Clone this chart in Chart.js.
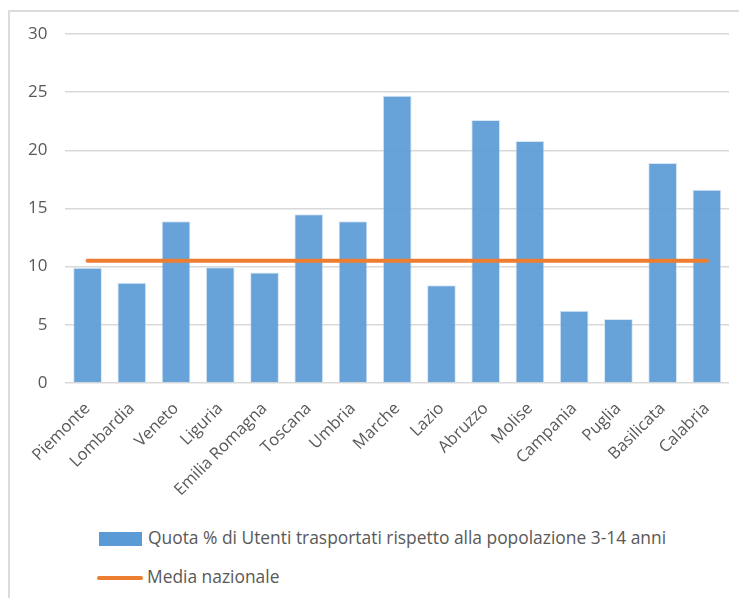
<!DOCTYPE html>
<html>
<head>
  <meta charset="utf-8">
  <script src="https://cdn.jsdelivr.net/npm/chart.js@4.4.1/dist/chart.umd.min.js"></script>
  <style>
    body { margin: 0; background: #fff; font-family: "Open Sans", sans-serif; }
    #frame { position: absolute; left: 8px; top: 10px; width: 760px; height: 620px;
             border-left: 2px solid #dcdcdc; border-top: 2px solid #dcdcdc; }
    #holder { position: absolute; left: 0; top: 0; width: 739px; height: 510px; }
    .leg { position: absolute; left: 99px; height: 22px; font-size: 17.4px; color: #595959;
           line-height: 22px; white-space: nowrap; }
    .leg .sw { display: inline-block; vertical-align: middle; margin-right: 6px; }
    .leg .bar { width: 43px; height: 14px; background: #5b9bd5; }
    .leg .ln { width: 46px; height: 4px; border-radius: 2px; background: #ed7d31; margin-left: -2px; margin-right: 4px; }
  </style>
</head>
<body>
<div id="frame"></div>
<div id="holder"><canvas id="chart-area"></canvas></div>
<div class="leg" style="top:526px"><span class="sw bar"></span>Quota % di Utenti trasportati rispetto alla popolazione 3-14 anni</div>
<div class="leg" style="top:565px"><span class="sw ln"></span>Media nazionale</div>

<script>
var regioni = ["Piemonte", "Lombardia", "Veneto", "Liguria", "Emilia Romagna", "Toscana", "Umbria",
  "Marche", "Lazio", "Abruzzo", "Molise", "Campania", "Puglia", "Basilicata", "Calabria"];
var quotaUtenti = [9.9, 8.6, 13.9, 9.95, 9.5, 14.5, 13.9, 24.7, 8.4, 22.6, 20.8, 6.2, 5.5, 18.9, 16.6];
var mediaNazionale = [10.5, 10.5, 10.5, 10.5, 10.5, 10.5, 10.5, 10.5, 10.5, 10.5, 10.5, 10.5, 10.5, 10.5, 10.5];
var yTicks = [0, 5, 10, 15, 20, 25, 30];

var config = {
  data: {
    labels: regioni,
    datasets: [{
      type: 'line',
      label: 'Media nazionale',
      data: mediaNazionale,
      borderColor: '#ed7d31',
      borderWidth: 4,
      borderCapStyle: 'round',
      pointRadius: 0,
      order: 1
    }, {
      type: 'bar',
      label: 'Quota % di Utenti trasportati rispetto alla popolazione 3-14 anni',
      data: quotaUtenti,
      backgroundColor: 'rgba(91,155,213,0.93)',
      borderColor: 'rgba(190,215,240,0.6)',
      borderWidth: 1,
      barPercentage: 0.65,
      categoryPercentage: 1,
      order: 2
    }]
  },
  options: {
    responsive: true,
    maintainAspectRatio: false,
    animation: false,
    layout: { padding: { left: 10, right: 10, top: 34, bottom: 2 } },
    plugins: { legend: { display: false }, tooltip: { enabled: false } },
    scales: {
      x: {
        grid: { display: false },
        border: { display: false },
        ticks: { color: '#595959', font: { family: "Open Sans", size: 16.5 }, minRotation: 45, maxRotation: 45, padding: 8 }
      },
      y: {
        min: 0, max: 30,
        afterBuildTicks: function(axis) { axis.ticks = yTicks.map(function(v) { return { value: v }; }); },
        grid: { color: '#d9d9d9', lineWidth: 1.5, drawTicks: false },
        border: { display: false },
        ticks: { color: '#595959', font: { family: "Open Sans", size: 17 }, padding: 18 }
      }
    }
  }
};

window.onload = function() {
  var ctx = document.getElementById("chart-area").getContext("2d");
  window.myChart = new Chart(ctx, config);
};
</script>
</body>
</html>
